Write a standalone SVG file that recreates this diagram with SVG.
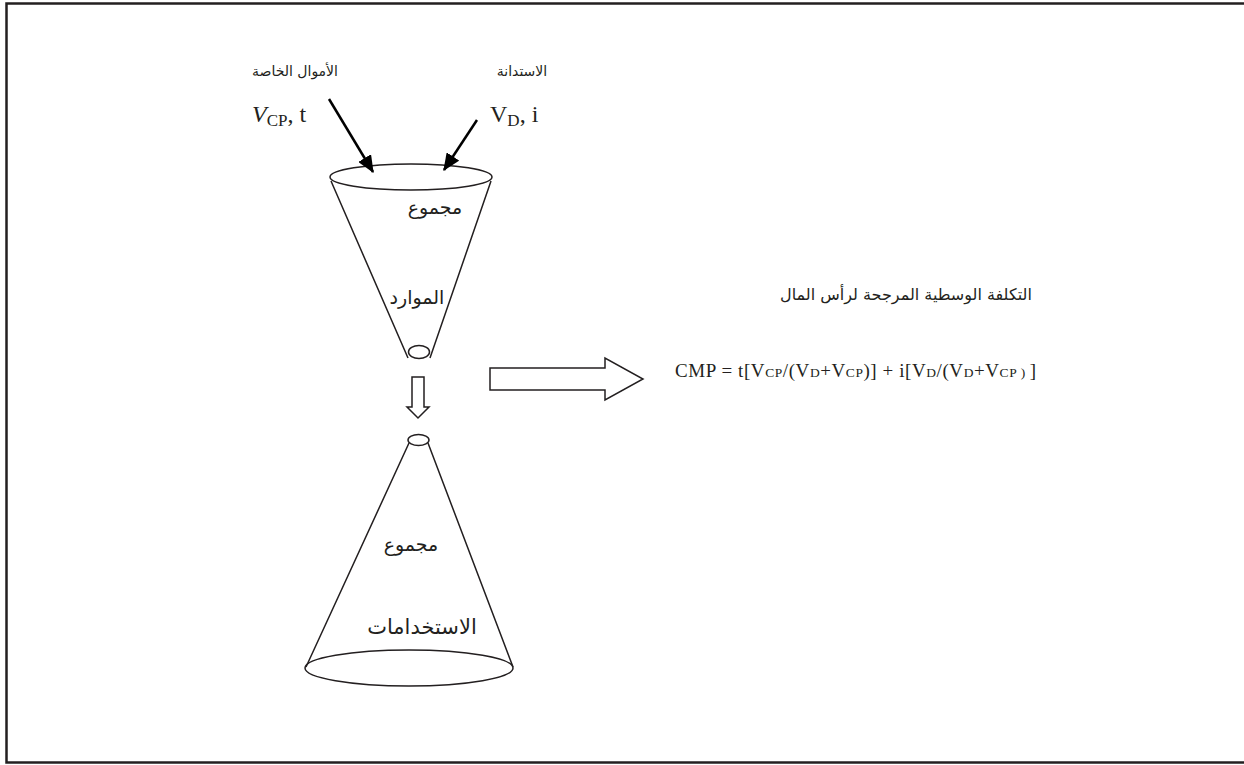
<svg xmlns="http://www.w3.org/2000/svg" width="1244" height="765" viewBox="0 0 1244 765">
<defs>
<style>
.ln{fill:none;stroke:#231f20;stroke-width:1.5}
.ar{font-family:"DejaVu Sans","Noto Sans",sans-serif;fill:#231f20;text-anchor:middle}
.mth{font-family:"Liberation Serif","DejaVu Serif",serif;fill:#231f20}
.blk{stroke:#000;stroke-width:2.5;fill:none}
</style>
<marker id="ah" markerWidth="7" markerHeight="6" refX="6.5" refY="3" orient="auto" markerUnits="strokeWidth">
<path d="M0,0 L7,3 L0,6 Z" fill="#000"/>
</marker>
</defs>
<rect width="1244" height="765" fill="#fff"/>
<path d="M1244,3.5 H6.5 V762.5 H1244" fill="none" stroke="#231f20" stroke-width="2.5"/>

<g id="input-equity">
<text class="ar" x="295" y="76" font-size="14" direction="rtl">الأموال الخاصة</text>
<text class="mth" x="252" y="122" font-size="24"><tspan font-style="italic">V</tspan><tspan font-size="17" dy="4">CP</tspan><tspan dy="-4">, t</tspan></text>
</g>
<g id="input-debt">
<text class="ar" x="522" y="76" font-size="14" direction="rtl">الاستدانة</text>
<text class="mth" x="490" y="122" font-size="24">V<tspan font-size="17" dy="4">D</tspan><tspan dy="-4">, i</tspan></text>
</g>

<g id="resources-funnel">
<ellipse class="ln" cx="411" cy="177" rx="81" ry="13"/>
<path class="ln" d="M331,181 L408,358 M491,181 L430,358"/>
<ellipse class="ln" cx="419" cy="352" rx="10.5" ry="6.5"/>
<text class="ar" x="435" y="214" font-size="19" direction="rtl">مجموع</text>
<text class="ar" x="417" y="304" font-size="19" direction="rtl">الموارد</text>
</g>

<g id="uses-cone">
<ellipse class="ln" cx="418.5" cy="440" rx="10.5" ry="5.5"/>
<path class="ln" d="M409,443 L306,667 M428,443 L513,667"/>
<ellipse class="ln" cx="409" cy="668" rx="104" ry="18"/>
<text class="ar" x="411" y="551" font-size="19" direction="rtl">مجموع</text>
<text class="ar" x="422" y="634" font-size="21" direction="rtl">الاستخدامات</text>
</g>

<g id="wacc">
<text class="ar" x="906" y="300" font-size="16" direction="rtl">التكلفة الوسطية المرجحة لرأس المال</text>
<text class="mth" x="675" y="377" font-size="19" textLength="361" lengthAdjust="spacing">CMP = t[V<tspan font-size="13.5">CP</tspan>/(V<tspan font-size="13.5">D</tspan>+V<tspan font-size="13.5">CP</tspan>)] + i[V<tspan font-size="13.5">D</tspan>/(V<tspan font-size="13.5">D</tspan>+V<tspan font-size="13.5">CP ) </tspan>]</text>
</g>

<g id="connectors">
<line class="blk" x1="329" y1="99" x2="373" y2="172" marker-end="url(#ah)"/>
<line class="blk" x1="477" y1="120" x2="444" y2="170" marker-end="url(#ah)"/>
<path class="ln" d="M412,377 H424 V407 H429 L418,418 L407,407 H412 Z" fill="#fff"/>
<path class="ln" d="M490,368 H605 V358 L643,379 L605,400 V390 H490 Z" fill="#fff"/>
</g>
</svg>
